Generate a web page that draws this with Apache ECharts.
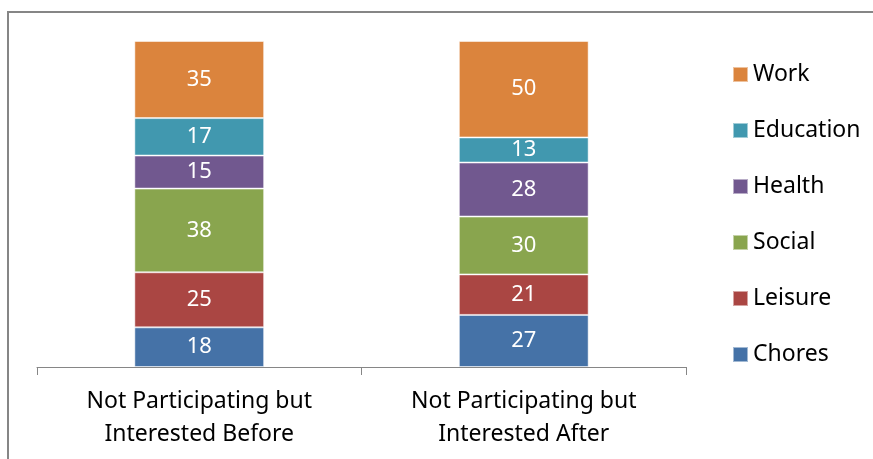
<!DOCTYPE html>
<html>
<head>
<meta charset="utf-8">
<script src="https://cdn.jsdelivr.net/npm/echarts@6/dist/echarts.min.js"></script>
<style>
  html, body { margin: 0; padding: 0; background: #fff; }
  #main { width: 873px; height: 459px; }
</style>
</head>
<body>
<div id="main"></div>
<script>
// categories and raw values (bars are 100% stacked, labels show raw values)
var categories = ['Not Participating but\nInterested Before', 'Not Participating but\nInterested After'];
var chores = [18, 27];
var leisure = [25, 21];
var social = [38, 30];
var health = [15, 28];
var education = [17, 13];
var work = [35, 50];

var seriesNames = ['Chores', 'Leisure', 'Social', 'Health', 'Education', 'Work'];
var seriesValues = [chores, leisure, social, health, education, work];
var colors = ['#4572A7', '#AA4643', '#89A54E', '#71588F', '#4198AF', '#DB843D'];

var totals = categories.map(function (c, i) {
    var s = 0;
    seriesValues.forEach(function (arr) { s += arr[i]; });
    return s;
});

var font = 'Noto Sans';

var series = seriesNames.map(function (name, k) {
    return {
        name: name,
        type: 'bar',
        stack: 'all',
        barWidth: '40%',
        itemStyle: { color: colors[k], borderColor: 'rgba(255,255,255,0.5)', borderWidth: 1 },
        label: {
            show: true,
            position: 'inside',
            color: '#fff',
            fontFamily: font,
            fontSize: 22,
            formatter: function (p) { return seriesValues[k][p.dataIndex]; }
        },
        data: seriesValues[k].map(function (v, i) { return v / totals[i] * 100; })
    };
});

var myChart = echarts.init(document.getElementById('main'));
var option = {
    animation: false,
    color: colors,
    graphic: [{
        type: 'rect',
        shape: { x: 8, y: 12, width: 1000, height: 1000 },
        style: { fill: 'none', stroke: '#868686', lineWidth: 2 },
        silent: true
    }],
    grid: { left: 37, right: 187, top: 41, bottom: 92 },
    legend: {
        orient: 'vertical',
        left: 732,
        top: 63,
        padding: 0,
        itemWidth: 15,
        itemHeight: 15,
        itemGap: 33,
        icon: 'rect',
        data: seriesNames.slice().reverse(),
        textStyle: { fontFamily: font, fontSize: 23, color: '#000', lineHeight: 23 }
    },
    xAxis: {
        type: 'category',
        data: categories,
        axisLine: { lineStyle: { color: '#868686', width: 1 } },
        axisTick: { show: true, length: 8, lineStyle: { color: '#868686' } },
        axisLabel: { color: '#000', fontFamily: font, fontSize: 23, lineHeight: 33, margin: 18 }
    },
    yAxis: {
        type: 'value',
        min: 0,
        max: 100,
        show: false
    },
    series: series
};
myChart.setOption(option);
</script>
</body>
</html>
